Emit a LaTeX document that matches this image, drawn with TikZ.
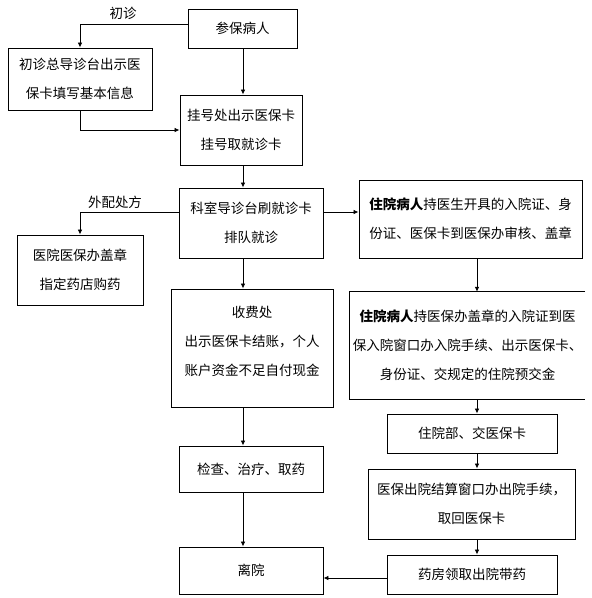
\documentclass[tikz,border=0pt]{standalone}
\usepackage{fontspec}
\setmainfont{Noto Sans CJK SC}
\usetikzlibrary{arrows.meta}
\begin{document}
\begin{tikzpicture}[x=1pt,y=-1pt,
 box/.style={draw, line width=0.9pt, align=center, inner sep=0pt, font=\fontsize{13.5}{29}\selectfont},
 openbox/.style={align=center, inner sep=0pt, font=\fontsize{13.5}{29}\selectfont},
 arr/.style={-{Latex[length=5pt,width=4.5pt]}, line width=0.8pt},
 lbl/.style={font=\fontsize{13.5}{16}\selectfont, inner sep=0pt}]
\useasboundingbox (0,0) rectangle (592,598);
\coordinate (spine) at (243,0);
\coordinate (rspine) at (477,0);
\coordinate (yA) at (0,212);
\coordinate (yB) at (0,578);

\node[box, minimum width=109pt, minimum height=39pt] (a) at (242.5,28.5) {参保病人};
\node[box, minimum width=144pt, minimum height=62pt] (b) at (80,79) {初诊总导诊台出示医\\保卡填写基本信息};
\node[box, minimum width=122pt, minimum height=70pt] (c) at (241,130) {挂号处出示医保卡\\挂号取就诊卡};
\node[box, minimum width=144pt, minimum height=70pt] (d) at (251,223) {科室导诊台刷就诊卡\\排队就诊};
\node[box, minimum width=126pt, minimum height=70pt] (h) at (80,270) {医院医保办盖章\\指定药店购药};
\node[box, minimum width=162pt, minimum height=118pt] (e) at (252,348) {收费处\\出示医保卡结账，个人\\账户资金不足自付现金\\[-15pt]\mbox{}};
\node[box, minimum width=144pt, minimum height=46pt] (f) at (251,469) {检查、治疗、取药};
\node[box, minimum width=144pt, minimum height=47pt] (g) at (251,570.5) {离院};
\node[box, minimum width=223pt, minimum height=78pt] (i) at (470.5,219) {\textbf{住院病人}持医生开具的入院证、身\\份证、医保卡到医保办审核、盖章};
\node[openbox, minimum width=235pt, minimum height=107pt] (j) at (467.5,345.5) {\textbf{住院病人}持医保办盖章的入院证到医\\保入院窗口办入院手续、出示医保卡、\\身份证、交规定的住院预交金};
\draw[line width=0.9pt] (j.north east) -- (j.north west) -- (j.south west) -- (j.south east);
\node[box, minimum width=170pt, minimum height=39pt] (k) at (472,433.5) {住院部、交医保卡};
\node[box, minimum width=207pt, minimum height=70pt] (l) at (471.5,504) {医保出院结算窗口办出院手续，\\取回医保卡};
\node[box, minimum width=170pt, minimum height=39pt] (m) at (472,574.5) {药房领取出院带药};

\node[lbl] (l1) at (123,13) {初诊};
\node[lbl] (l2) at (115,202) {外配处方};

\draw[arr] ([yshift=4.5pt]a.west) -| (b.north);
\draw[arr] (b.south) |- (c.west);
\draw[arr] (spine |- a.south) -- (spine |- c.north);
\draw[arr] (spine |- c.south) -- (spine |- d.north);
\draw[arr] (spine |- d.south) -- (spine |- e.north);
\draw[arr] (spine |- e.south) -- (spine |- f.north);
\draw[arr] (spine |- f.south) -- (spine |- g.north);
\draw[arr] (d.west |- yA) -| (h.north);
\draw[arr] (d.east |- yA) -- (i.west |- yA);
\draw[arr] (rspine |- i.south) -- (rspine |- j.north);
\draw[arr] (rspine |- j.south) -- (rspine |- k.north);
\draw[arr] (rspine |- k.south) -- (rspine |- l.north);
\draw[arr] (rspine |- l.south) -- (rspine |- m.north);
\draw[arr] (m.west |- yB) -- (g.east |- yB);
\end{tikzpicture}
\end{document}
